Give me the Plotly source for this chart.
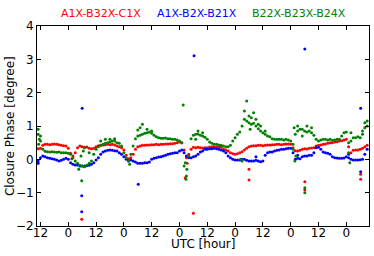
import plotly.graph_objects as go

# hourly samples (UTC hours counted continuously from day 0)
hours = list(range(11, 154))

red_phase = [
    0.32, 0.33, 0.42, 0.45, 0.45, 0.44, 0.45, 0.46, 0.45, 0.44,   # 11-20
    0.42, 0.41, 0.40, 0.33, 0.18, 0.10, 0.20, 0.35, 0.40, 0.38,   # 21-30
    0.36, 0.37, 0.33, 0.32, 0.33, 0.38, 0.41, 0.42, 0.43, 0.44,   # 31-40
    0.45, 0.44, 0.45, 0.43, 0.40, 0.38, 0.35, 0.28, 0.12, 0.02,   # 41-50
    0.05, 0.15, 0.30, 0.38, 0.40, 0.42, 0.42, 0.43, 0.43, 0.44,   # 51-60
    0.44, 0.45, 0.44, 0.45, 0.45, 0.46, 0.46, 0.47, 0.47, 0.48,   # 61-70
    0.50, 0.52, 0.50, 0.28, 0.05, 0.15, 0.30, 0.36, 0.35, 0.36,   # 71-80
    0.35, 0.34, 0.35, 0.35, 0.37, 0.38, 0.38, 0.37, 0.38, 0.36,   # 81-90
    0.30, 0.28, 0.25, 0.20, 0.17, 0.15, 0.17, 0.20, 0.23, 0.28,   # 91-100
    0.33, 0.38, 0.40, 0.41, 0.41, 0.42, 0.42, 0.41, 0.42, 0.43,   # 101-110
    0.43, 0.44, 0.44, 0.45, 0.45, 0.44, 0.45, 0.46, 0.46, 0.45,   # 111-120
    0.35, 0.26, 0.25, 0.27, 0.30, 0.32, 0.31, 0.33, 0.34, 0.35,   # 121-130
    0.40, 0.42, 0.43, 0.45, 0.46, 0.48, 0.50, 0.50, 0.52, 0.53,   # 131-140
    0.55, 0.56, 0.58, 0.60, 0.38, 0.20, 0.27, 0.28, 0.28, 0.30,   # 141-150
    0.33, 0.38, 0.42,                                             # 151-153
]

blue_phase = [
    -0.05, 0.05, 0.10, 0.08, 0.05, 0.03, 0.02, 0.00, -0.02, -0.05,   # 11-20
    -0.03, 0.00, 0.03, 0.00, -0.10, -0.15, -0.17, -0.17, -0.20, -0.20,  # 21-30
    -0.20, -0.19, -0.18, -0.15, -0.10, -0.02, 0.05, 0.15, 0.22, 0.25,  # 31-40
    0.27, 0.28, 0.27, 0.26, 0.25, 0.20, 0.15, 0.08, 0.00, -0.05,     # 41-50
    -0.02, -0.05, -0.08, -0.12, -0.12, -0.12, -0.10, -0.10, -0.08, 0.00,  # 51-60
    0.03, 0.05, 0.07, 0.08, 0.10, 0.12, 0.15, 0.17, 0.18, 0.20,      # 61-70
    0.20, 0.25, 0.28, 0.20, 0.10, 0.05, 0.05, 0.08, 0.10, 0.15,      # 71-80
    0.22, 0.25, 0.30, 0.30, 0.32, 0.32, 0.33, 0.32, 0.30, 0.28,      # 81-90
    0.25, 0.20, 0.10, 0.05, 0.00, -0.02, -0.02, -0.02, 0.00, 0.00,   # 91-100
    -0.03, -0.05, -0.05, -0.05, -0.03, -0.05, -0.07, -0.05, 0.12, 0.20,  # 101-110
    0.22, 0.22, 0.25, 0.27, 0.28, 0.30, 0.30, 0.32, 0.33, 0.33,      # 111-120
    0.20, 0.00, 0.03, 0.02, 0.08, 0.10, 0.10, 0.12, 0.12, 0.20,      # 121-130
    0.35, 0.36, 0.30, 0.22, 0.20, 0.18, 0.15, 0.08, 0.05, 0.04,      # 131-140
    0.03, 0.03, 0.04, 0.08, 0.05, 0.00, -0.02, -0.02, -0.02, -0.01,  # 141-150
    0.00, 0.15, 0.30,                                                # 151-153
]

green_phase = [
    0.75, 0.55, 0.30, 0.24, 0.23, 0.22, 0.23, 0.22, 0.21, 0.22,   # 11-20
    0.20, 0.20, 0.20, 0.18, 0.15, 0.05, -0.05, -0.12, -0.18, -0.20,  # 21-30
    -0.22, -0.18, -0.12, -0.05, 0.15, 0.30, 0.38, 0.42, 0.45, 0.48,  # 31-40
    0.50, 0.52, 0.55, 0.55, 0.50, 0.48, 0.40, 0.20, 0.05, -0.05,  # 41-50
    0.15, 0.40, 0.62, 0.70, 0.72, 0.75, 0.78, 0.80, 0.82, 0.78,   # 51-60
    0.72, 0.68, 0.65, 0.63, 0.63, 0.64, 0.62, 0.62, 0.60, 0.60,   # 61-70
    0.58, 0.55, 0.50, -0.20, -0.50, 0.10, 0.62, 0.72, 0.75, 0.76,  # 71-80
    0.72, 0.70, 0.66, 0.60, 0.52, 0.48, 0.45, 0.45, 0.43, 0.42,   # 81-90
    0.40, 0.38, 0.38, 0.42, 0.55, 0.65, 0.75, 0.82, 1.00, 1.20,   # 91-100
    1.15, 1.10, 1.05, 1.08, 1.00, 0.92, 0.85, 0.80, 0.75, 0.70,   # 101-110
    0.68, 0.62, 0.60, 0.60, 0.60, 0.60, 0.58, 0.60, 0.58, 0.55,   # 111-120
    0.45, 0.75, 0.85, 0.90, 0.90, 0.85, 0.82, 0.85, 0.80, 0.72,   # 121-130
    0.60, 0.55, 0.58, 0.60, 0.60, 0.58, 0.60, 0.57, 0.58, 0.60,   # 131-140
    0.60, 0.70, 0.80, 0.82, 0.20, 0.55, 0.65, 0.65, 0.68, 0.65,   # 141-150
    0.85, 0.95, 1.00,                                             # 151-153
]

# scattered / outlying points
red_extra_h = [29.8, 74.5, 78.0, 102.0, 102.0, 126.1, 126.1, 150.2, 150.2, 25.5, 75.3]
red_extra_v = [-1.80, -0.55, -1.62, -0.30, -0.62, -0.67, -0.92, -0.45, -0.60, 0.02, -0.12]

blue_extra_h = [30.0, 29.8, 29.8, 54.2, 78.3, 126.1, 150.2, 150.2, 11.0, 105.0, 123.0, 145.0]
blue_extra_v = [1.53, -1.09, -1.57, -0.75, 3.11, 3.31, 1.53, -0.37, -0.12, 0.08, 0.12, 0.15]

green_extra_h = [11.0, 11.5, 11.2, 12.0, 28.5, 29.5, 30.5, 31.0, 33.0, 38.0,
                 40.0, 42.0, 44.0, 50.5, 54.0, 55.0, 56.0, 58.0, 60.0, 73.6,
                 74.5, 74.8, 75.2, 79.0, 80.0, 82.0, 98.5, 99.0, 100.0, 101.0,
                 102.0, 102.5, 103.0, 104.0, 105.0, 106.0, 107.0, 109.0, 121.0, 121.5,
                 121.8, 122.2, 123.0, 125.0, 127.0, 129.0, 145.0, 145.5, 146.0, 151.0,
                 152.0, 153.0, 126.1, 126.1, 29.8]
green_extra_v = [0.90, 0.60, 0.45, 0.70, -0.30, 0.10, 0.25, 0.35, 0.20, 0.55,
                 0.60, 0.60, 0.62, -0.15, 0.88, 0.95, 1.05, 0.90, 0.85, 1.63,
                 -0.10, -0.60, -0.30, 0.60, 0.85, 0.80, 0.00, -0.05, 1.45, 1.75,
                 1.30, 0.90, 1.25, 1.40, 1.20, 1.05, 1.00, 0.85, 0.30, 0.95,
                 -0.05, 0.10, 1.00, 0.70, 1.00, 0.95, 0.50, -0.10, 0.80, 0.75,
                 1.10, 1.15, -0.85, -1.00, -0.64]

tick_hours = [12, 24, 36, 48, 60, 72, 84, 96, 108, 120, 132, 144]
tick_text = ["12", "0", "12", "0", "12", "0", "12", "0", "12", "0", "12", "0"]

series = [
    ("A1X-B32X-C1X", "#ff0000", red_phase, red_extra_h, red_extra_v),
    ("A1X-B2X-B21X", "#0000ff", blue_phase, blue_extra_h, blue_extra_v),
    ("B22X-B23X-B24X", "#008000", green_phase, green_extra_h, green_extra_v),
]

fig = go.Figure()
for name, col, vals, eh, ev in series:
    fig.add_trace(go.Scatter(
        x=hours + eh, y=vals + ev, mode="markers", name=name,
        marker=dict(size=3, color=col, line=dict(width=0)),
    ))

# legend drawn as coloured labels above the axes
label_x = [0.193, 0.482, 0.789]
for (name, col, *_), lx in zip(series, label_x):
    fig.add_annotation(text=name, x=lx, y=1.065, xref="paper", yref="paper",
                       xanchor="center", yanchor="middle",
                       showarrow=False, font=dict(size=11, color=col))

# axis titles placed by hand
fig.add_annotation(text="UTC [hour]", x=0.5, y=-0.09, xref="paper", yref="paper",
                   xanchor="center", yanchor="middle", showarrow=False,
                   font=dict(size=12, color="black"))
fig.add_annotation(text="Closure Phase [degree]", x=-0.081, y=0.5, xref="paper",
                   yref="paper", xanchor="center", yanchor="middle", textangle=-90,
                   showarrow=False, font=dict(size=12, color="black"))

axis_common = dict(showline=True, linecolor="black", linewidth=1, mirror="ticks",
                   ticks="inside", ticklen=4, tickcolor="black", showgrid=False,
                   zeroline=False, automargin=False,
                   tickfont=dict(size=12, color="black"))

fig.update_layout(
    width=374, height=256,
    margin=dict(l=37, r=5, t=26, b=30),
    paper_bgcolor="white", plot_bgcolor="white",
    font=dict(family="DejaVu Sans", color="black"),
    showlegend=False,
    xaxis=dict(range=[10.5, 153.8], tickvals=tick_hours, ticktext=tick_text,
               ticklabelstandoff=-4, **axis_common),
    yaxis=dict(range=[-2, 4], dtick=1, **axis_common),
)

fig.write_html("out.html", config={"displayModeBar": False},
               post_script="document.body.style.margin='0';")
